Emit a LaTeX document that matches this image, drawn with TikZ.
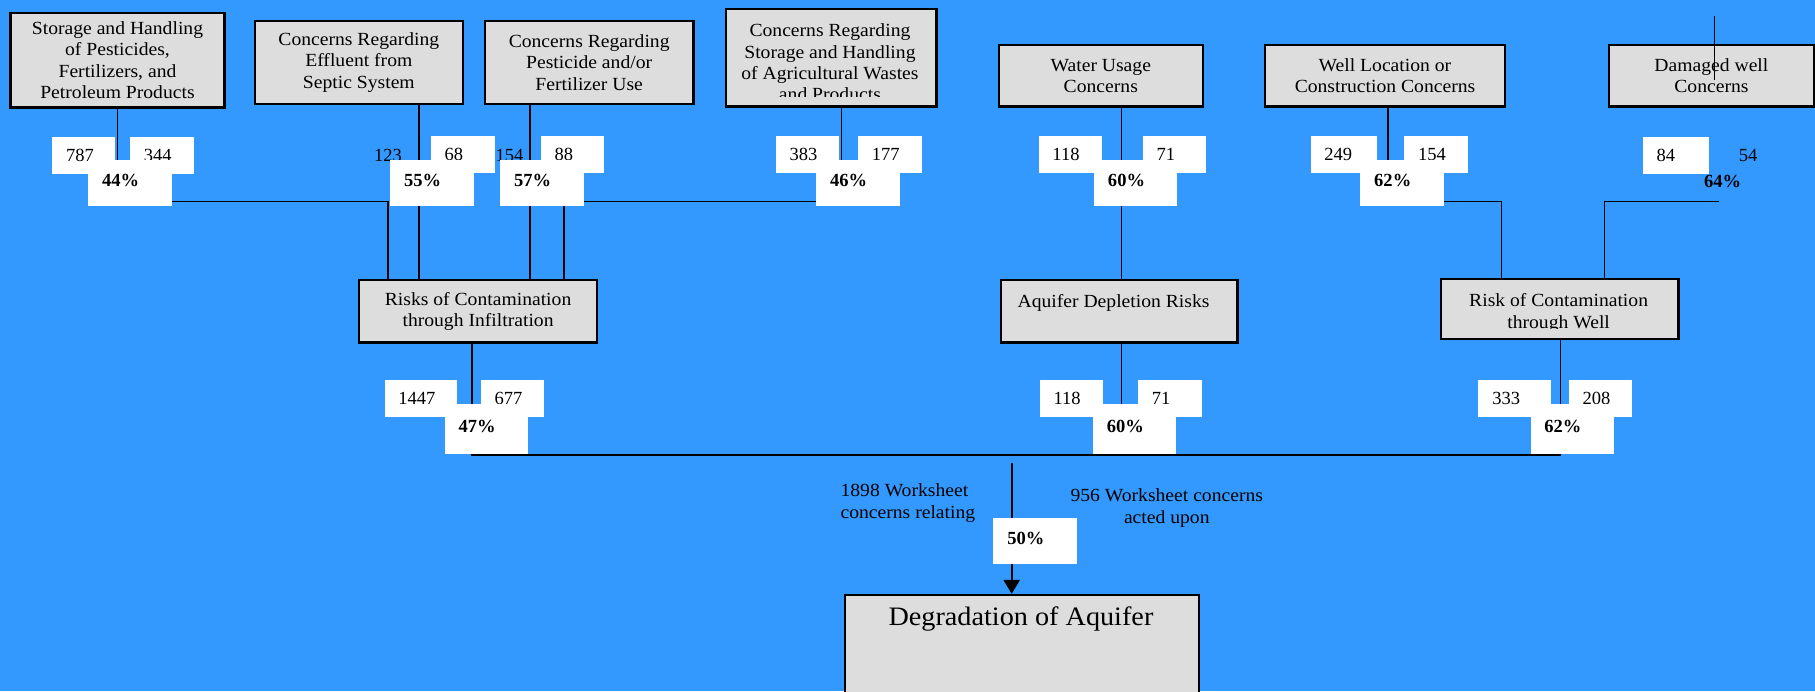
\documentclass[tikz,border=0pt]{standalone}
\usepackage{fontspec}
\setmainfont{Liberation Serif}
\newfontfamily\boxfont{Liberation Serif}[FakeStretch=1.06]
\usetikzlibrary{arrows.meta}
\definecolor{bgblue}{HTML}{3399FF}
\definecolor{boxgray}{HTML}{DDDDDD}
\begin{document}
\begin{tikzpicture}[x=1pt,y=-1pt,
  gbox/.style={draw=black, line width=2pt, fill=boxgray, inner sep=0pt, anchor=north west,
    font=\boxfont\fontsize{16}{18.5}\selectfont, align=center},
  btext/.style={font=\boxfont\fontsize{16}{18.5}\selectfont, align=center, inner sep=0pt},
  numbox/.style={fill=white, inner xsep=12pt, inner ysep=0pt, minimum height=32pt, text width=#1,
    align=left, anchor=north west, font=\fontsize{16}{18}\selectfont, text height=11pt, text depth=0pt},
  numbox/.default=31pt,
  pctbox/.style={fill=white, inner xsep=12pt, inner ysep=0pt, minimum height=#1, text width=48pt,
    align=left, anchor=north west, font=\bfseries\fontsize{16}{18}\selectfont, text height=11pt, text depth=5pt},
  pctbox/.default=40pt,
  freetext/.style={anchor=west, inner sep=0pt, font=\fontsize{16}{18}\selectfont},
  conn/.style={line width=1.4pt, draw=black},
]
\fill[bgblue] (0,0) rectangle (1568,597);
\useasboundingbox (0,0) rectangle (1568,597);

% ---- top gray boxes
\node[gbox, minimum width=185pt, minimum height=82pt] (b1) at (8,10)
  {Storage and Handling\\of Pesticides,\\Fertilizers, and\\Petroleum Products};
\node[gbox, minimum width=180pt, minimum height=72pt] (b2) at (219,17)
  {Concerns Regarding\\Effluent from\\Septic System};
\node[gbox, minimum width=180pt, minimum height=72pt] (b3) at (418,17)
  {Concerns Regarding\\Pesticide and/or\\Fertilizer Use};
\node[gbox, minimum width=182pt, minimum height=84pt] (b4) at (626,7) {};
\begin{scope}
  \clip (628,9) rectangle (798,83.5);
  \node[btext] (b4t) at (717,54)
    {Concerns Regarding\\Storage and Handling\\of Agricultural Wastes\\and Products};
\end{scope}
\node[gbox, minimum width=176pt, minimum height=53pt] (b5) at (862,38)
  {Water Usage\\Concerns};
\node[gbox, minimum width=207pt, minimum height=53pt] (b6) at (1092,38)
  {Well Location or\\Construction Concerns};
\node[gbox, minimum width=177pt, minimum height=53pt] (b7) at (1389,38)
  {Damaged well\\Concerns};

% ---- middle gray boxes
\node[gbox, minimum width=206pt, minimum height=54pt] (r1) at (309,241)
  {Risks of Contamination\\through Infiltration};
\node[gbox, minimum width=204pt, minimum height=54pt] (r2) at (864,241) {};
\node[btext] (r2t) at (962,262) {Aquifer Depletion Risks};
\node[gbox, minimum width=205pt, minimum height=52pt] (r3) at (1244,240) {};
\begin{scope}
  \clip (1246,242) rectangle (1447,283.5);
  \node[btext] (r3t) at (1346.5,270.5) {Risk of Contamination\\through Well};
\end{scope}

% ---- bottom box
\node[gbox, minimum width=306pt, minimum height=100pt] (deg) at (729,513) {};
\node[btext, font=\boxfont\fontsize{23}{26}\selectfont] (degt) at (882,535) {Degradation of Aquifer};

% ---- coordinates for connectors
\coordinate (v2) at (362,0);
\coordinate (v3) at (458,0);
\coordinate (v4) at (727,0);
\coordinate (v5) at (969,0);
\coordinate (v6) at (1199,0);
\coordinate (v7) at (408,0);
\coordinate (v8) at (1348,0);
\coordinate (j1) at (335,174);
\coordinate (j2) at (487,174);
\coordinate (j3) at (1297,174);
\coordinate (j4) at (1386,174);
\coordinate (e4) at (1485,174);
\coordinate (s7a) at (1481,14);
\coordinate (s7b) at (1481,69);
\coordinate (k1) at (408,393);
\coordinate (k2) at (1348,393);
\coordinate (a0) at (874,400);

% ---- free texts
\node[freetext] (t123) at (323,134) {123};
\node[freetext] (t154) at (428,134) {154};
\node[freetext] (t54) at (1502,134) {54};
\node[freetext, font=\bfseries\fontsize{16}{18}\selectfont] (t64) at (1472,157) {64\%};

% ---- connectors (drawn before the white boxes)
\draw[conn] (b1.south) -- (b1.south |- 0,138);
\draw[conn] (b2.south -| v2) -- (r1.north -| v2);
\draw[conn] (b3.south -| v3) -- (r1.north -| v3);
\draw[conn] (147,174) -- (j1) -- (j1 |- r1.north);
\draw[conn] (705,174) -- (j2) -- (j2 |- r1.north);
\draw[conn] (b4.south -| v4) -- (v4 |- 0,138);
\draw[conn] (b5.south -| v5) -- (r2.north -| v5);
\draw[conn] (b6.south -| v6) -- (v6 |- 0,138);
\draw[conn] (1247,174) -- (j3) -- (j3 |- r3.north);
\draw[conn] (e4) -- (j4) -- (j4 |- r3.north);
\draw[conn] (s7a) -- (s7b);
\draw[conn] (r1.south -| v7) -- (k1) -- (k2) -- (r3.south -| v8);
\draw[conn] (r2.south -| v5) -- (v5 |- 0,349);
\draw[conn, -{Triangle[width=14pt,length=12pt]}] (a0) -- (a0 |- deg.north);

% ---- number boxes, top row
\node[numbox=30pt] (n787) at (45,118) {787};
\node[numbox] (n344) at (112,118) {344};
\node[numbox] (n68) at (372,117) {68};
\node[numbox] (n88) at (467,117) {88};
\node[numbox] (n383) at (670,117) {383};
\node[numbox] (n177) at (741,117) {177};
\node[numbox] (n118) at (897,117) {118};
\node[numbox] (n71) at (987,117) {71};
\node[numbox=33pt] (n249) at (1132,117) {249};
\node[numbox] (n154) at (1213,117) {154};
\node[numbox=33pt] (n84) at (1419,118) {84};

% ---- percentage boxes, top row
\node[pctbox] (p44) at (76,138) {44\%};
\node[pctbox] (p55) at (337,138) {55\%};
\node[pctbox] (p57) at (432,138) {57\%};
\node[pctbox] (p46) at (705,138) {46\%};
\node[pctbox] (p60) at (945,138) {60\%};
\node[pctbox] (p62) at (1175,138) {62\%};

% ---- number boxes, lower row
\node[numbox=39pt] (n1447) at (332,328) {1447};
\node[numbox] (n677) at (415,328) {677};
\node[numbox] (n118b) at (898,328) {118};
\node[numbox] (n71b) at (983,328) {71};
\node[numbox=39pt] (n333) at (1277,328) {333};
\node[numbox] (n208) at (1355,328) {208};

% ---- percentage boxes, lower row
\node[pctbox=43pt] (p47) at (384,349) {47\%};
\node[pctbox=43pt] (p60b) at (944,349) {60\%};
\node[pctbox=43pt] (p62b) at (1322,349) {62\%};
\node[pctbox] (p50) at (858,447) {50\%};

% ---- worksheet texts
\node[freetext, align=left, font=\boxfont\fontsize{16}{19}\selectfont] (w1) at (726,435)
  {1898 Worksheet\\concerns relating};
\node[inner sep=0pt, align=center, font=\boxfont\fontsize{16}{19}\selectfont] (w2) at (1008,439)
  {956 Worksheet concerns\\acted upon};
\end{tikzpicture}
\end{document}
